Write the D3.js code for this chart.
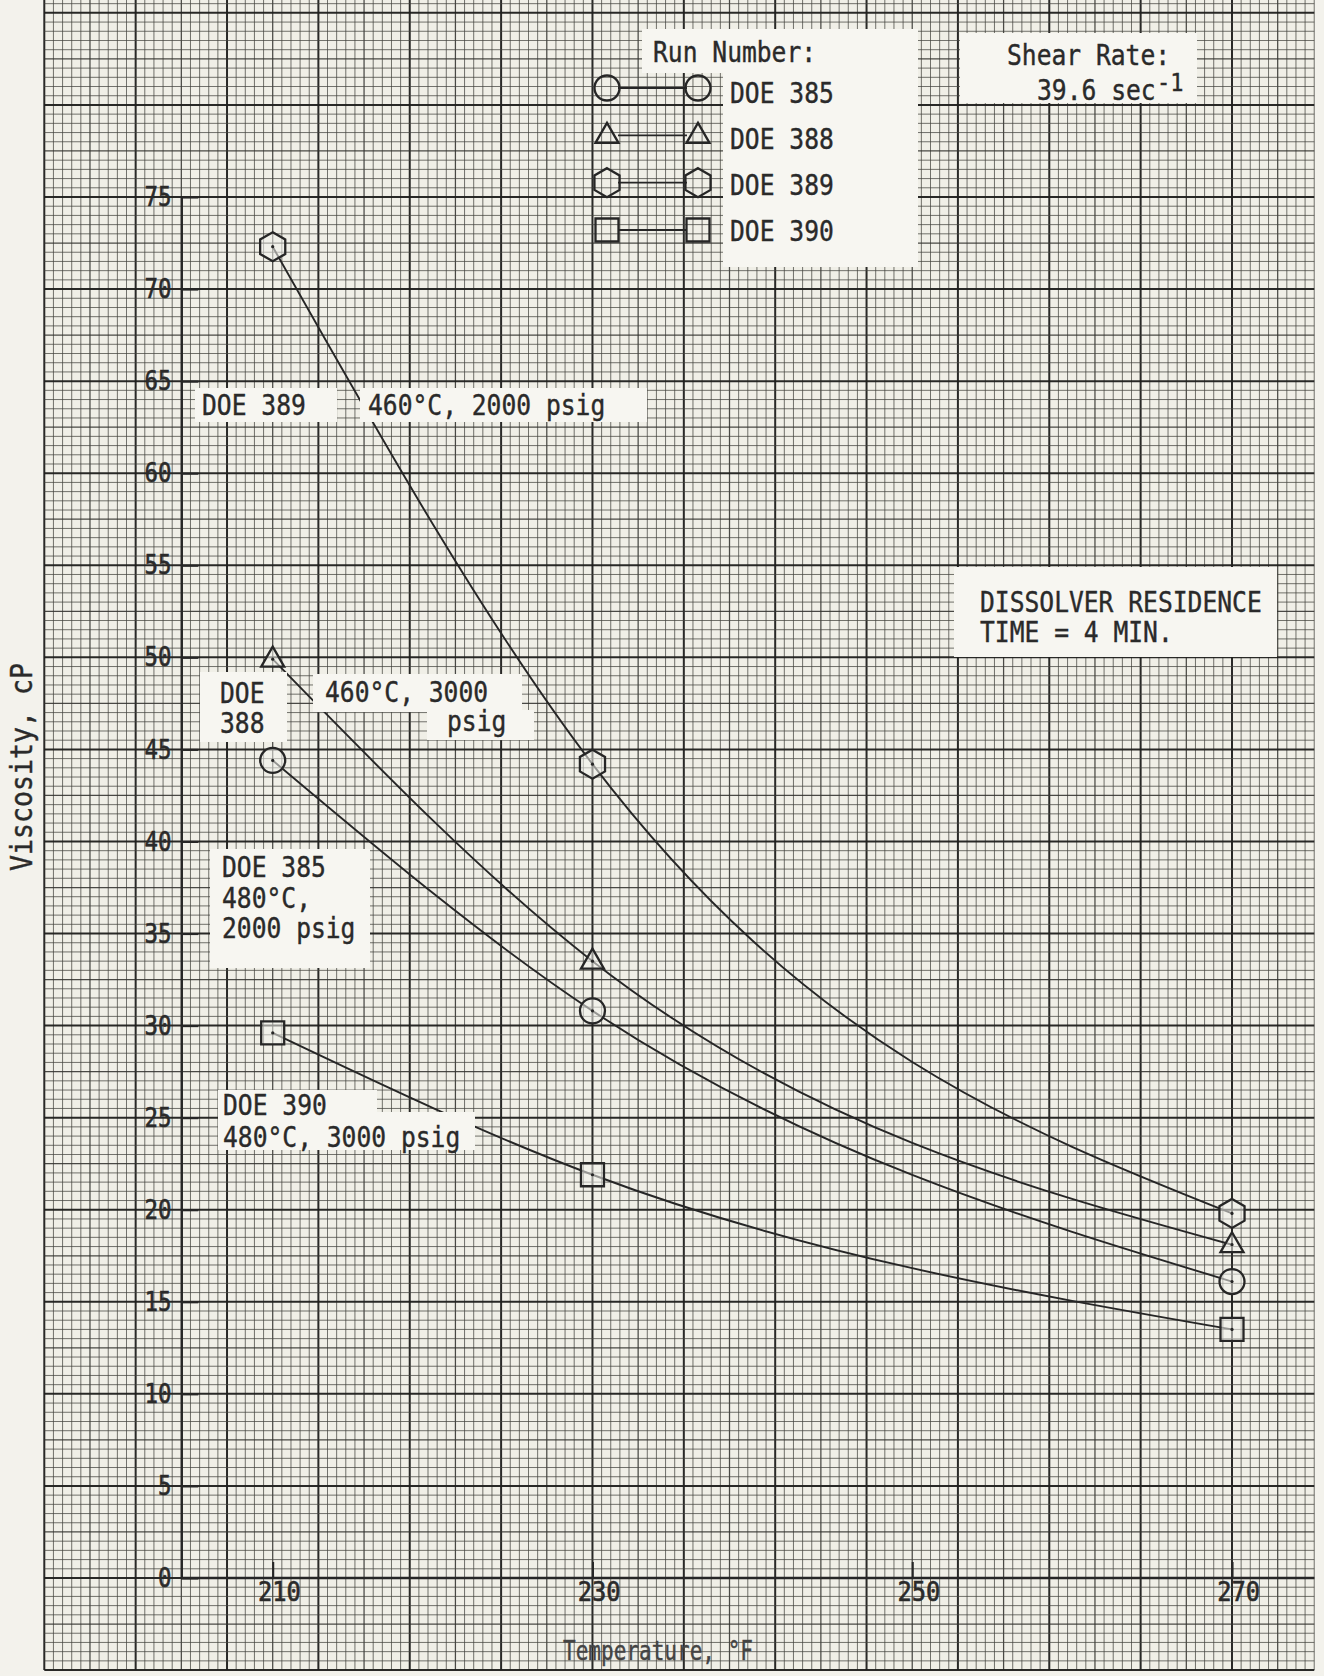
<!DOCTYPE html>
<html><head><meta charset="utf-8">
<script src="https://cdnjs.cloudflare.com/ajax/libs/d3/7.8.5/d3.min.js"></script>
<style>
html,body{margin:0;padding:0;background:#f3f2ec;}
svg{display:block;}
</style></head><body>
<svg id="chart" width="1324" height="1676"></svg>
<script>
// ---------------- DATA ----------------
const temperatures = [210, 230, 270];              // °F
const seriesNames  = ["DOE 385", "DOE 388", "DOE 389", "DOE 390"];
const doe385 = [44.4, 30.8, 16.1];                 // viscosity, cP
const doe388 = [49.9, 33.5, 18.1];
const doe389 = [72.3, 44.2, 19.8];
const doe390 = [29.6, 21.9, 13.5];
const markerShapes = ["circle", "triangle", "hexagon", "square"];
const xTickValues = [210, 230, 250, 270];
const yTickValues = [0, 5, 10, 15, 20, 25, 30, 35, 40, 45, 50, 55, 60, 65, 70, 75];
const xAxisTitle = "Temperature, °F";
const yAxisTitle = "Viscosity, cP";
const legendTitle = "Run Number:";
const shearLines = ["Shear Rate:", "39.6 sec", "-1"];
const residenceLines = ["DISSOLVER RESIDENCE", "TIME = 4 MIN."];
const label389 = ["DOE 389", "460°C, 2000 psig"];
const label388 = ["DOE", "388", "460°C, 3000", "psig"];
const label385 = ["DOE 385", "480°C,", "2000 psig"];
const label390 = ["DOE 390", "480°C, 3000 psig"];

const seriesValues = [doe385, doe388, doe389, doe390];
const series = seriesNames.map((name, i) => ({
  name, shape: markerShapes[i],
  points: temperatures.map((t, j) => ({t, v: seriesValues[i][j]}))
}));

// ---------------- SETUP ----------------
const W = 1324, H = 1676;
const svg = d3.select("#chart");
const PAPER = "#f3f2ec", BOX = "#f7f6f1", INK = "#262626", TEXT = "#2a2a2a";
const FONT = "'DejaVu Sans Mono', 'Liberation Mono', monospace";

const x = d3.scaleLinear().domain([210, 270]).range([272.7, 1232]);
const y = d3.scaleLinear().domain([0, 75]).range([1578, 197]);

svg.append("rect").attr("width", W).attr("height", H).attr("fill", PAPER);

// ---------------- GRAPH PAPER ----------------
const minorT = 60 / 105;          // 105 minor divisions between 210 and 270
const gridLeft = x(210 - 25 * minorT);
const gridRight = x(210 + 114 * minorT);
const gridBottom = y(-5);
const grid = svg.append("g");
grid.append("rect").attr("x", gridLeft).attr("y", 0)
  .attr("width", gridRight - gridLeft).attr("height", gridBottom).attr("fill", "#f0efe7");

const vLines = d3.range(0, 140).map(k => ({k, px: x(210 + (k - 25) * minorT)}));
const hLines = d3.range(0, 182).map(j => ({j, v: -5 + j * 0.5})).filter(d => y(d.v) > -2);

function gw(kind) { return kind === 0 ? 2.0 : kind === 1 ? 1.25 : 0.95; }
function gc(kind) { return kind === 0 ? "#1f1f1d" : kind === 1 ? "#33332f" : "#45453f"; }
function gop(kind) { return kind === 0 ? 0.95 : kind === 1 ? 0.88 : 0.78; }

grid.selectAll("line.v").data(vLines).join("line")
  .attr("x1", d => d.px).attr("x2", d => d.px)
  .attr("y1", 0).attr("y2", gridBottom)
  .each(function(d){ const kind = d.k % 10 === 0 ? 0 : d.k % 5 === 0 ? 1 : 2;
    d3.select(this).attr("stroke", gc(kind)).attr("stroke-width", gw(kind)).attr("opacity", gop(kind)); });

grid.selectAll("line.h").data(hLines).join("line")
  .attr("x1", gridLeft).attr("x2", gridRight)
  .attr("y1", d => y(d.v)).attr("y2", d => y(d.v))
  .each(function(d){ const kind = d.j % 10 === 0 ? 0 : d.j % 5 === 0 ? 1 : 2;
    d3.select(this).attr("stroke", gc(kind)).attr("stroke-width", gw(kind)).attr("opacity", gop(kind)); });

// ---------------- AXES ----------------
const yAxisX = x(210 - 10 * minorT);
const yAxis = d3.axisLeft(y).tickValues(yTickValues).tickSize(-17).tickSizeOuter(0).tickPadding(12);
const gy = svg.append("g").attr("transform", `translate(${yAxisX},0)`).call(yAxis);
gy.select(".domain").attr("stroke", INK).attr("stroke-width", 2.3);
gy.selectAll(".tick line").attr("stroke", INK).attr("stroke-width", 2.1);
gy.selectAll(".tick text").attr("font-family", FONT).attr("font-size", 27)
  .attr("fill", TEXT).attr("stroke", TEXT).attr("stroke-width", 0.6).attr("text-anchor", "end")
  .attr("transform", "scale(0.83,1)");

const xAxis = d3.axisBottom(x).tickValues(xTickValues).tickSize(-16).tickSizeOuter(0).tickPadding(4);
const gx = svg.append("g").attr("transform", `translate(0,${y(0)})`).call(xAxis);
gx.select(".domain").remove();
gx.append("line").attr("x1", yAxisX).attr("x2", gridRight).attr("y1", 0).attr("y2", 0)
  .attr("stroke", INK).attr("stroke-width", 2.3);
gx.selectAll(".tick line").attr("stroke", INK).attr("stroke-width", 2.1);
gx.selectAll(".tick text").attr("font-family", FONT).attr("font-size", 27)
  .attr("fill", TEXT).attr("stroke", TEXT).attr("stroke-width", 0.6)
  .attr("dx", 7).attr("transform", "scale(0.88,1)");

// ---------------- CURVES ----------------
const line = d3.line().x(d => x(d.t)).y(d => y(d.v)).curve(d3.curveMonotoneX);
svg.append("g").selectAll("path").data(series).join("path")
  .attr("d", d => line(d.points)).attr("fill", "none")
  .attr("stroke", INK).attr("stroke-width", 1.9);

// ---------------- TEXT HELPERS ----------------
function box(x0, y0, x1, y1) {
  svg.append("rect").attr("x", x0).attr("y", y0).attr("width", x1 - x0).attr("height", y1 - y0)
    .attr("fill", BOX);
}
function txt(s, px, py, size, sx, color) {
  svg.append("text").attr("transform", `translate(${px},${py}) scale(${sx},1)`)
    .attr("font-family", FONT).attr("font-size", size)
    .attr("fill", color || TEXT).attr("stroke", color || TEXT).attr("stroke-width", 0.4)
    .text(s);
}

// ---------------- MARKERS ----------------
function markerPath(shape) {
  const p = d3.path();
  if (shape === "circle") { p.arc(0, 0, 12.5, 0, 2 * Math.PI); p.closePath(); }
  else if (shape === "square") { p.rect(-11.5, -11.5, 23, 23); }
  else if (shape === "triangle") { p.moveTo(0, -12.5); p.lineTo(11.5, 7.5); p.lineTo(-11.5, 7.5); p.closePath(); }
  else if (shape === "hexagon") {
    for (let i = 0; i < 6; i++) { const a = -Math.PI / 2 + i * Math.PI / 3;
      const px = 14.5 * Math.cos(a), py = 14.5 * Math.sin(a);
      if (i === 0) p.moveTo(px, py); else p.lineTo(px, py); }
    p.closePath();
  }
  return p.toString();
}

// ---------------- ANNOTATION BOXES ----------------
// legend
box(642, 29, 918, 73); box(723, 29, 918, 267);
// shear rate
box(960, 33, 1197, 103);
// residence time
box(954, 567, 1277, 657);
// DOE 389
box(195, 388, 337, 422); box(360, 388, 647, 422);
// DOE 388
box(200, 672, 287, 742); box(313, 674, 522, 712); box(427, 710, 534, 740);
// DOE 385
box(210, 849, 370, 968);
// DOE 390
box(218, 1090, 377, 1120); box(218, 1112, 475, 1150);

// markers on data
const mg = svg.append("g");
series.forEach(s => {
  s.points.forEach(p => {
    const g = mg.append("g").attr("transform", `translate(${x(p.t)},${y(p.v)})`);
    g.append("path").attr("d", markerPath(s.shape)).attr("fill", PAPER).attr("fill-opacity", 0.55)
      .attr("stroke", INK).attr("stroke-width", 2.3);
    g.append("circle").attr("r", 1.6).attr("fill", INK);
  });
});

// legend
txt(legendTitle, 653, 62, 28, 0.88);
const legY = d3.scaleLinear().domain([0, 3]).range([88, 230]);
series.forEach((s, i) => {
  const ly = legY(i);
  const g = svg.append("g");
  g.append("line").attr("x1", 618).attr("x2", 687).attr("y1", ly).attr("y2", ly)
    .attr("stroke", INK).attr("stroke-width", 1.8);
  [607, 698].forEach(lx => {
    g.append("path").attr("transform", `translate(${lx},${ly})`).attr("d", markerPath(s.shape))
      .attr("fill", "none").attr("stroke", INK).attr("stroke-width", 2.3);
  });
  txt(s.name, 730, ly + 15 - i * 1.5, 28, 0.88);
});

// shear rate
txt(shearLines[0], 1007, 65, 28, 0.88);
txt(shearLines[1], 1037, 100, 28, 0.88);
txt(shearLines[2], 1157, 91, 25, 0.88);

// residence
txt(residenceLines[0], 980, 612, 28, 0.88);
txt(residenceLines[1], 980, 642, 28, 0.88);

// DOE 389
txt(label389[0], 202, 415, 28, 0.88);
txt(label389[1], 368, 415, 28, 0.88);
// DOE 388
txt(label388[0], 220, 703, 28, 0.88);
txt(label388[1], 220, 733, 28, 0.88);
txt(label388[2], 325, 702, 28, 0.88);
txt(label388[3], 447, 731, 28, 0.88);
// DOE 385
txt(label385[0], 222, 877, 28, 0.88);
txt(label385[1], 222, 908, 28, 0.88);
txt(label385[2], 222, 938, 28, 0.88);
// DOE 390
txt(label390[0], 223, 1115, 28, 0.88);
txt(label390[1], 223, 1147, 28, 0.88);

// axis titles
txt(xAxisTitle, 563, 1660, 26, 0.81, "#444");
svg.append("text").attr("transform", "translate(32,767) rotate(-90) scale(0.886,1)")
  .attr("text-anchor", "middle").attr("font-family", FONT).attr("font-size", 30)
  .attr("fill", TEXT).attr("stroke", TEXT).attr("stroke-width", 0.4).text(yAxisTitle);
</script>
</body></html>
